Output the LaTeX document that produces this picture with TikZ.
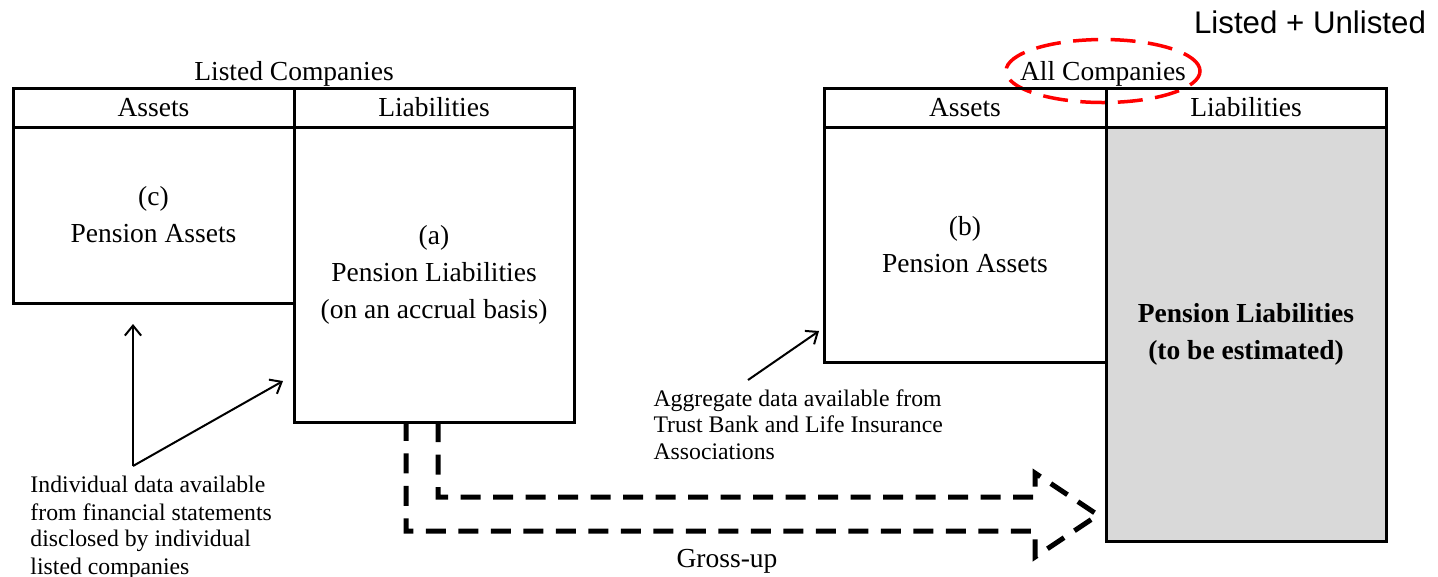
\documentclass[tikz,border=0pt]{standalone}
\usepackage{fontspec}
\setmainfont{Liberation Serif}
\newfontfamily\arialfont{Liberation Sans}
\usetikzlibrary{arrows.meta}
\tikzset{
  cell/.style={draw, line width=1.2pt, inner sep=0pt, outer sep=0pt, anchor=north west,
    align=center, font=\fontsize{11}{14.8}\selectfont},
  note/.style={anchor=north west, inner sep=0pt, align=left, font=\fontsize{9.5}{10.8}\selectfont},
  pointer/.style={-{Straight Barb[length=4pt,width=6.5pt]}, line width=0.8pt},
  grossup/.style={line width=2pt, dash pattern=on 8pt off 5pt, line join=miter},
}
\begin{document}
\begin{tikzpicture}[x=0.4pt, y=-0.4pt, font=\fontsize{11}{13}\selectfont]
\useasboundingbox (0,0) rectangle (1438,576);
    % listed companies
        \node (ltitle) at (294,74) {Listed Companies};
        \node[cell, minimum width=112.4pt, minimum height=15.6pt] (lhA) at (13,88) {Assets};
        \node[cell, minimum width=112pt, minimum height=15.6pt] (lhL) at (294,88) {Liabilities};
        \node[cell, minimum width=112.4pt, minimum height=70.4pt] (lA) at (13,127) {(c)\\Pension Assets};
        \node[cell, minimum width=112pt, minimum height=118pt] (lL) at (294,127) {(a)\\Pension Liabilities\\(on an accrual basis)};
    % all companies
        \node (atitle) at (1103,74) {All Companies};
        \draw[red, line width=1.4pt, dash pattern=on 10pt off 5pt] ([yshift=1.2pt]atitle) ellipse (38.8pt and 12.6pt);
        \node[font=\arialfont\fontsize{12.5}{15}\selectfont] (sum) at (1310,22) {Listed + Unlisted};
        \node[cell, minimum width=112.8pt, minimum height=15.6pt] (rhA) at (824,88) {Assets};
        \node[cell, minimum width=112pt, minimum height=15.6pt] (rhL) at (1106,88) {Liabilities};
        \node[cell, minimum width=112.8pt, minimum height=94pt] (rA) at (824,127) {(b)\\Pension Assets};
        \node[cell, fill=black!15, minimum width=112pt, minimum height=165.6pt,
              font=\fontsize{11}{14.8}\selectfont\bfseries] (rL) at (1106,127) {Pension Liabilities\\(to be estimated)};
    % data sources
        \node[note] (noteL) at (30,476) {Individual data available\\from financial statements\\disclosed by individual\\listed companies};
        \coordinate (fork) at (133,466);
        \coordinate (cEnd) at (133,324);
        \coordinate (aEnd) at (283,381);
        \draw[pointer] (fork) -- (cEnd);
        \draw[pointer] (fork) -- (aEnd);
        \node[note, font=\fontsize{9.5}{10.6}\selectfont] (noteR) at (653,389) {Aggregate data available from\\Trust Bank and Life Insurance\\Associations};
        \coordinate (bStart) at (748,380);
        \coordinate (bEnd) at (819,331);
        \draw[pointer] (bStart) -- (bEnd);
    % gross-up
        \draw[grossup] (lL.south -| 438,0) |- (1035,497) -- (1035,473) -- (1098,515)
            -- (1035,557) -- (1035,531) -| (lL.south -| 406,0);
        \node (gross) at (727,561) {Gross-up};
\end{tikzpicture}
\end{document}
